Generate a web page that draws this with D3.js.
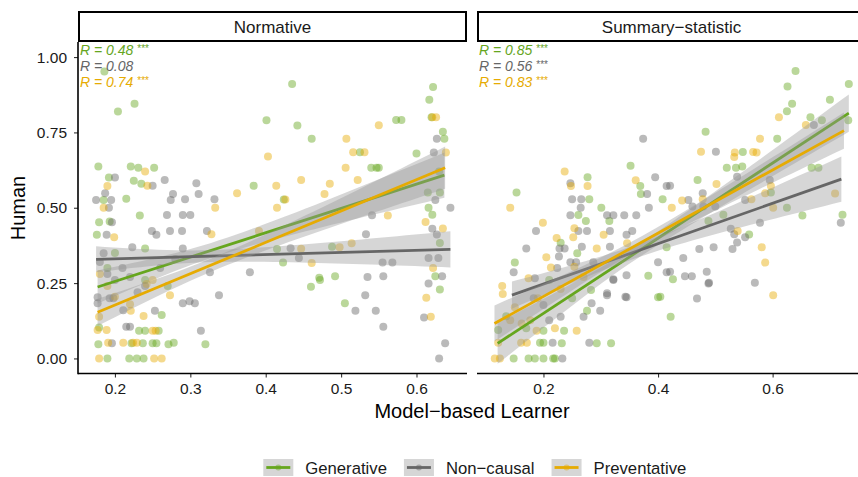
<!DOCTYPE html>
<html>
<head>
<meta charset="utf-8">
<script src="https://cdn.jsdelivr.net/npm/d3@7"></script>
<style>
body { margin: 0; background: #fff; }
text { font-family: "Liberation Sans", Arial, sans-serif; }
</style>
</head>
<body>
<script>
var groups = ["Generative", "Non\u2212causal", "Preventative"];
var colors = ["#66a61e", "#666666", "#e6ab02"];
var panels = ["Normative", "Summary\u2212statistic"];

// Normative panel points [model, human]
var normGen = [[0.186,0.952],[0.204,0.819],[0.226,0.845],[0.401,0.79],
  [0.178,0.637],[0.221,0.637],[0.231,0.633],[0.252,0.633],[0.192,0.60],[0.225,0.59],[0.235,0.58],[0.185,0.526],[0.215,0.53],
  [0.179,0.452],[0.193,0.454],[0.176,0.41],[0.233,0.474],[0.24,0.365],[0.384,0.573],
  [0.435,0.911],[0.442,0.773],[0.461,0.729],[0.622,0.901],[0.617,0.858],[0.62,0.80],[0.573,0.791],[0.58,0.791],[0.635,0.752],
  [0.637,0.729],[0.525,0.684],[0.54,0.633],[0.547,0.633],[0.55,0.633],[0.424,0.527],[0.615,0.551],[0.631,0.551],[0.616,0.50],
  [0.621,0.477],[0.415,0.363],[0.488,0.371],[0.631,0.383],[0.423,0.318],[0.471,0.268],[0.492,0.273],[0.625,0.273],
  [0.178,0.047],[0.19,0],[0.219,0],[0.229,0],[0.238,0],[0.232,0.092],[0.24,0.092],[0.258,0.092],[0.262,0.144],[0.222,0.05],
  [0.237,0.05],[0.25,0.05],[0.255,0.05],[0.271,0.047],[0.278,0.052],[0.32,0.047],[0.179,0.103],[0.46,0.238],[0.472,0.26],
  [0.505,0.183],[0.631,0.229],[0.19,0.3],[0.2,0.35],[0.24,0.26],[0.27,0.24],[0.6,0.68],[0.63,0.62]];
var normNon = [[0.2,0.60],[0.187,0.548],[0.175,0.526],[0.195,0.526],[0.192,0.50],[0.196,0.452],[0.189,0.41],[0.25,0.573],
  [0.266,0.592],[0.277,0.546],[0.274,0.526],[0.293,0.528],[0.308,0.581],[0.311,0.546],[0.332,0.528],[0.269,0.476],[0.29,0.476],
  [0.3,0.476],[0.249,0.423],[0.255,0.41],[0.273,0.423],[0.289,0.423],[0.322,0.423],[0.223,0.369],[0.29,0.365],[0.379,0.286],
  [0.326,0.286],[0.627,0.729],[0.623,0.683],[0.645,0.50],[0.625,0.526],[0.621,0.43],[0.627,0.411],[0.541,0.475],[0.533,0.412],
  [0.433,0.366],[0.444,0.333],[0.555,0.318],[0.568,0.318],[0.616,0.333],[0.629,0.333],[0.535,0.27],[0.556,0.273],[0.634,0.273],
  [0.177,0.203],[0.177,0.183],[0.193,0.2],[0.198,0.2],[0.211,0.16],[0.253,0.158],[0.29,0.183],[0.299,0.19],[0.306,0.183],
  [0.338,0.21],[0.314,0.092],[0.196,0.05],[0.519,0.158],[0.532,0.21],[0.546,0.158],[0.556,0.105],[0.61,0.136],[0.616,0.249],
  [0.63,0],[0.638,0.05],[0.215,0.105],[0.22,0.105],[0.18,0.32],[0.19,0.28],[0.2,0.26],[0.21,0.3],[0.22,0.27],[0.23,0.22],
  [0.24,0.24],[0.26,0.3],[0.28,0.33],[0.185,0.349]];
var normPrev = [[0.24,0.62],[0.19,0.572],[0.243,0.573],[0.185,0.50],[0.199,0.402],[0.333,0.50],[0.362,0.548],[0.328,0.412],
  [0.391,0.423],[0.403,0.67],[0.507,0.729],[0.55,0.774],[0.621,0.80],[0.626,0.80],[0.516,0.684],[0.531,0.684],[0.506,0.633],
  [0.414,0.573],[0.447,0.592],[0.485,0.58],[0.522,0.592],[0.478,0.546],[0.415,0.50],[0.426,0.527],[0.562,0.474],[0.612,0.453],
  [0.635,0.431],[0.514,0.382],[0.498,0.369],[0.447,0.364],[0.461,0.317],[0.622,0.30],[0.639,0.683],
  [0.179,0],[0.252,0],[0.262,0],[0.177,0.094],[0.189,0.094],[0.211,0.052],[0.191,0.052],[0.224,0.052],[0.229,0.052],[0.25,0.092],
  [0.254,0.092],[0.238,0.141],[0.221,0.158],[0.179,0.138],[0.273,0.21],[0.2,0.205],[0.613,0.201],[0.619,0.138],[0.242,0.247],
  [0.18,0.28],[0.19,0.24],[0.22,0.18],[0.25,0.26]];

// Summary-statistic panel points
var sumGen = [[0.64,0.954],[0.626,0.902],[0.634,0.845],[0.625,0.82],[0.733,0.911],[0.7,0.858],[0.666,0.80],[0.686,0.79],
  [0.732,0.79],[0.483,0.752],[0.608,0.729],[0.548,0.685],[0.52,0.633],[0.536,0.633],[0.547,0.637],[0.668,0.633],[0.68,0.633],
  [0.469,0.592],[0.408,0.528],[0.597,0.551],[0.625,0.50],[0.652,0.474],[0.722,0.477],[0.514,0.477],[0.488,0.456],[0.559,0.411],
  [0.415,0.369],[0.426,0.263],[0.153,0.551],[0.352,0.639],[0.369,0.572],[0.37,0.546],[0.277,0.601],[0.28,0.528],[0.301,0.50],
  [0.261,0.476],[0.274,0.456],[0.315,0.456],[0.23,0.384],[0.259,0.349],[0.15,0.318],[0.383,0.274],[0.404,0.205],[0.283,0.227],
  [0.121,0.094],[0.148,0],[0.174,0],[0.185,0],[0.2,0],[0.217,0],[0.22,0],[0.194,0.052],[0.2,0.052],[0.232,0.05],[0.293,0.05],
  [0.318,0.05],[0.2,0.092],[0.236,0.092],[0.276,0.158],[0.4,0.203],[0.422,0.138],[0.135,0.14],[0.17,0.1],[0.25,0.2],[0.21,0.26]];
var sumNon = [[0.374,0.729],[0.395,0.601],[0.415,0.572],[0.381,0.546],[0.384,0.50],[0.247,0.581],[0.25,0.528],[0.266,0.528],
  [0.265,0.50],[0.247,0.475],[0.311,0.475],[0.322,0.475],[0.341,0.475],[0.362,0.475],[0.261,0.423],[0.276,0.423],[0.316,0.423],
  [0.345,0.41],[0.355,0.423],[0.187,0.423],[0.17,0.365],[0.228,0.365],[0.237,0.365],[0.267,0.371],[0.316,0.371],[0.227,0.338],
  [0.148,0.286],[0.224,0.30],[0.247,0.319],[0.257,0.319],[0.287,0.319],[0.345,0.276],[0.322,0.263],[0.4,0.319],[0.415,0.286],
  [0.311,0.216],[0.343,0.205],[0.185,0.266],[0.501,0.686],[0.672,0.775],[0.421,0.573],[0.478,0.548],[0.453,0.526],[0.538,0.603],
  [0.552,0.526],[0.595,0.592],[0.46,0.504],[0.479,0.504],[0.5,0.504],[0.578,0.45],[0.527,0.43],[0.533,0.412],[0.538,0.385],
  [0.552,0.402],[0.53,0.363],[0.497,0.369],[0.472,0.363],[0.444,0.333],[0.421,0.288],[0.447,0.273],[0.459,0.273],[0.485,0.288],
  [0.489,0.251],[0.569,0.251],[0.719,0.45],[0.468,0.199],[0.233,0],[0.216,0.052],[0.28,0.052],[0.284,0.183],[0.299,0.158],
  [0.311,0.21],[0.345,0.203],[0.488,0.249],[0.322,0.26],[0.27,0.138],[0.23,0.138],[0.21,0.127],[0.2,0.177],[0.183,0.2]];
var sumPrev = [[0.237,0.62],[0.248,0.572],[0.277,0.572],[0.361,0.591],[0.142,0.50],[0.199,0.45],[0.254,0.432],[0.252,0.402],
  [0.223,0.40],[0.305,0.41],[0.293,0.365],[0.205,0.336],[0.213,0.302],[0.128,0.24],[0.129,0.214],[0.174,0.266],[0.346,0.382],
  [0.254,0.304],[0.611,0.80],[0.658,0.775],[0.475,0.686],[0.533,0.668],[0.534,0.683],[0.566,0.685],[0.572,0.683],[0.502,0.579],
  [0.424,0.50],[0.442,0.524],[0.478,0.528],[0.563,0.528],[0.597,0.572],[0.587,0.548],[0.601,0.50],[0.709,0.547],[0.539,0.423],
  [0.581,0.369],[0.587,0.318],[0.601,0.21],[0.578,0.729],[0.115,0],[0.124,0],[0.121,0.052],[0.161,0.052],[0.171,0.052],
  [0.188,0.092],[0.22,0.1],[0.258,0.092],[0.162,0.116],[0.177,0.127],[0.142,0.127],[0.15,0.17],[0.19,0.2],[0.23,0.23],[0.27,0.27]];

var xTicksNorm = [0.2, 0.3, 0.4, 0.5, 0.6];
var xTicksSum = [0.2, 0.4, 0.6];
var yTicks = [0, 0.25, 0.5, 0.75, 1];
var xDomainNorm = [0.151, 0.667];
var xDomainSum = [0.084, 0.763];
var yDomain = [-0.05, 1.05];

var corrNorm = ["0.48", "0.08", "0.74"];
var sigNorm = ["***", "", "***"];
var corrSum = ["0.85", "0.56", "0.83"];
var sigSum = ["***", "***", "***"];

// linear fits: x range, fitted y at both ends, x of narrowest CI, CI half-width at start / narrowest / end
var fitNormX = [[0.177, 0.637], [0.175, 0.645], [0.177, 0.638]];
var fitNormY = [[0.237, 0.608], [0.329, 0.362], [0.153, 0.633]];
var fitNormXc = [0.33, 0.32, 0.33];
var fitNormHw = [[0.055, 0.025, 0.075], [0.043, 0.02, 0.06], [0.045, 0.022, 0.07]];
var fitSumX = [[0.12, 0.733], [0.145, 0.72], [0.1145, 0.7245]];
var fitSumY = [[0.05, 0.814], [0.21, 0.595], [0.116, 0.756]];
var fitSumXc = [0.36, 0.36, 0.36];
var fitSumHw = [[0.068, 0.022, 0.062], [0.045, 0.022, 0.075], [0.06, 0.02, 0.06]];

var svg = d3.select("body").append("svg")
	.attr("width", 858)
	.attr("height", 477);

var panelW = 389, plotTop = 42, plotBottom = 373.5;
var panelX = [78, 477];
var y = d3.scaleLinear().domain(yDomain).range([plotBottom, plotTop]);

var panelData = [
	{ name: panels[0], x0: panelX[0], domain: xDomainNorm, ticks: xTicksNorm, pts: [normGen, normNon, normPrev],
	  fx: fitNormX, fy: fitNormY, xc: fitNormXc, hw: fitNormHw, r: corrNorm, sig: sigNorm },
	{ name: panels[1], x0: panelX[1], domain: xDomainSum, ticks: xTicksSum, pts: [sumGen, sumNon, sumPrev],
	  fx: fitSumX, fy: fitSumY, xc: fitSumXc, hw: fitSumHw, r: corrSum, sig: sigSum }
];

panelData.forEach(function (p, pi) {
	var x = d3.scaleLinear().domain(p.domain).range([p.x0, p.x0 + panelW]);
	var g = svg.append("g");

	// strip
	g.append("rect")
		.attr("x", p.x0 + 1).attr("y", 12)
		.attr("width", panelW - 2).attr("height", 29)
		.attr("fill", "#fff").attr("stroke", "#000").attr("stroke-width", 2);
	g.append("text")
		.attr("x", p.x0 + panelW / 2).attr("y", 33)
		.attr("text-anchor", "middle").attr("font-size", "17px").attr("fill", "#1a1a1a")
		.text(p.name);

	// points
	p.pts.forEach(function (pts, gi) {
		g.append("g").selectAll("circle").data(pts).join("circle")
			.attr("cx", d => x(d[0]))
			.attr("cy", d => y(d[1]))
			.attr("r", 4)
			.attr("fill", colors[gi])
			.attr("fill-opacity", 0.45);
	});

	// smooth: ribbon then line for each group
	groups.forEach(function (grp, gi) {
		var x0 = p.fx[gi][0], x1 = p.fx[gi][1];
		var y0 = p.fy[gi][0], y1 = p.fy[gi][1];
		var xc = p.xc[gi], h = p.hw[gi];
		var samples = d3.range(0, 41).map(function (i) {
			var xv = x0 + (x1 - x0) * i / 40;
			var yv = y0 + (y1 - y0) * (xv - x0) / (x1 - x0);
			var he = xv < xc ? h[0] : h[2];
			var xe = xv < xc ? x0 : x1;
			var t = (xv - xc) / (xe - xc);
			var hw = Math.sqrt(h[1] * h[1] + (he * he - h[1] * h[1]) * t * t);
			return { x: xv, y: yv, lo: yv - hw, hi: yv + hw };
		});
		g.append("path")
			.attr("d", d3.area().x(d => x(d.x)).y0(d => y(d.lo)).y1(d => y(d.hi))(samples))
			.attr("fill", "#999999").attr("fill-opacity", 0.4);
		g.append("path")
			.attr("d", d3.line().x(d => x(d.x)).y(d => y(d.y))([samples[0], samples[40]]))
			.attr("stroke", colors[gi]).attr("stroke-width", 2.8).attr("fill", "none");
	});

	// correlation labels
	groups.forEach(function (grp, gi) {
		var t = g.append("text")
			.attr("x", p.x0 + 2).attr("y", 55 + gi * 16)
			.attr("font-size", "14px").attr("fill", colors[gi]);
		t.append("tspan").attr("font-style", "italic").text("R = " + p.r[gi]);
		if (p.sig[gi]) {
			t.append("tspan").attr("font-size", "10px").attr("dx", 4).attr("dy", -3).text(p.sig[gi]);
		}
	});

	// x axis
	var xa = g.append("g")
		.attr("transform", "translate(0," + plotBottom + ")")
		.call(d3.axisBottom(x).tickValues(p.ticks).tickFormat(d3.format(".1f")).tickSize(4).tickPadding(5));
	xa.select(".domain").remove();
	xa.attr("font-family", null).attr("font-size", null);
	xa.selectAll("line").attr("stroke", "#333").attr("stroke-width", 1.1);
	xa.selectAll("text").style("font-size", "15.5px").attr("fill", "#1a1a1a");
	g.append("line")
		.attr("x1", p.x0).attr("x2", p.x0 + panelW)
		.attr("y1", plotBottom).attr("y2", plotBottom)
		.attr("stroke", "#000").attr("stroke-width", 1.6);

	// y axis on the first panel only
	if (pi === 0) {
		var ya = g.append("g")
			.attr("transform", "translate(" + p.x0 + ",0)")
			.call(d3.axisLeft(y).tickValues(yTicks).tickFormat(d3.format(".2f")).tickSize(4).tickPadding(7));
		ya.select(".domain").remove();
		ya.attr("font-family", null).attr("font-size", null);
		ya.selectAll("line").attr("stroke", "#333").attr("stroke-width", 1.1);
		ya.selectAll("text").style("font-size", "15.5px").attr("fill", "#1a1a1a");
		g.append("line")
			.attr("x1", p.x0).attr("x2", p.x0)
			.attr("y1", plotTop).attr("y2", plotBottom + 0.8)
			.attr("stroke", "#000").attr("stroke-width", 1.6);
	}
});

// axis titles
svg.append("text")
	.attr("x", 472).attr("y", 418)
	.attr("text-anchor", "middle").attr("font-size", "20px").attr("fill", "#000")
	.text("Model\u2212based Learner");
svg.append("text")
	.attr("transform", "translate(25,208)rotate(-90)")
	.attr("text-anchor", "middle").attr("font-size", "20px").attr("fill", "#000")
	.text("Human");

// legend
var legend = svg.append("g");
var lx = 263.3;
groups.forEach(function (grp, gi) {
	var item = legend.append("g").attr("transform", "translate(" + lx + ",459)");
	item.append("rect").attr("width", 30).attr("height", 17)
		.attr("fill", "#999999").attr("fill-opacity", 0.4);
	item.append("circle").attr("cx", 15).attr("cy", 8.5).attr("r", 3)
		.attr("fill", colors[gi]).attr("fill-opacity", 0.45);
	item.append("line").attr("x1", 3).attr("x2", 27).attr("y1", 8.5).attr("y2", 8.5)
		.attr("stroke", colors[gi]).attr("stroke-width", 2.8);
	var t = item.append("text").attr("x", 42).attr("y", 14.5)
		.attr("font-size", "16.7px").attr("fill", "#1a1a1a").text(grp);
	lx += 42 + t.node().getComputedTextLength() + 17;
});
</script>
</body>
</html>
